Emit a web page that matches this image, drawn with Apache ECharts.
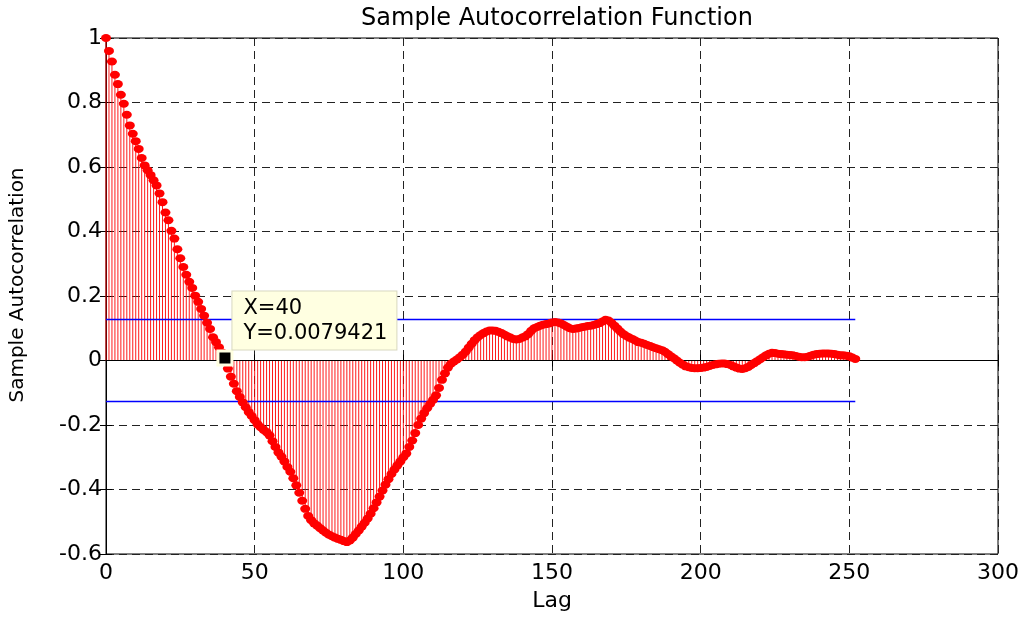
<!DOCTYPE html>
<html>
<head>
<meta charset="utf-8">
<title>Sample Autocorrelation Function</title>
<script src="https://cdn.jsdelivr.net/npm/echarts@6/dist/echarts.min.js"></script>
<style>
  html, body { margin: 0; padding: 0; background: #fff; }
  #chart { width: 1029px; height: 617px; }
</style>
</head>
<body>
<div id="chart"></div>
<script>
// sample autocorrelation, lag 0 .. 252
const acf = [
  1.000, 0.960, 0.927, 0.886, 0.857, 0.824, 0.796, 0.762, 0.729, 0.703,
  0.680, 0.656, 0.628, 0.605, 0.590, 0.575, 0.559, 0.543, 0.518, 0.491,
  0.459, 0.435, 0.402, 0.378, 0.345, 0.317, 0.290, 0.266, 0.244, 0.225,
  0.201, 0.182, 0.160, 0.139, 0.117, 0.098, 0.072, 0.057, 0.041, 0.025,
  0.0079421,
  -0.025, -0.050, -0.072, -0.095, -0.113, -0.130, -0.145, -0.160, -0.172, -0.185,
  -0.198, -0.207, -0.215, -0.222, -0.232, -0.250, -0.268, -0.285, -0.298, -0.313,
  -0.330, -0.345, -0.365, -0.387, -0.410, -0.435, -0.460, -0.482, -0.495, -0.505,
  -0.512, -0.520, -0.527, -0.534, -0.540, -0.545, -0.549, -0.553, -0.556, -0.560,
  -0.563, -0.558, -0.549, -0.538, -0.527, -0.515, -0.503, -0.490, -0.475, -0.458,
  -0.440, -0.422, -0.403, -0.385, -0.368, -0.352, -0.338, -0.325, -0.313, -0.300,
  -0.288, -0.268, -0.248, -0.225, -0.200, -0.180, -0.163, -0.148, -0.135, -0.122,
  -0.108, -0.085, -0.060, -0.040, -0.022, -0.010, -0.003, 0.003, 0.010, 0.018,
  0.028, 0.040, 0.052, 0.063, 0.072, 0.079, 0.085, 0.090, 0.093, 0.093,
  0.092, 0.089, 0.085, 0.080, 0.075, 0.071, 0.067, 0.065, 0.067, 0.071,
  0.075, 0.082, 0.092, 0.100, 0.104, 0.108, 0.111, 0.113, 0.115, 0.118,
  0.119, 0.118, 0.115, 0.110, 0.105, 0.100, 0.098, 0.099, 0.101, 0.103,
  0.105, 0.107, 0.108, 0.110, 0.113, 0.116, 0.121, 0.126, 0.124, 0.117,
  0.108, 0.099, 0.090, 0.082, 0.076, 0.071, 0.067, 0.062, 0.057, 0.055,
  0.052, 0.048, 0.045, 0.041, 0.038, 0.035, 0.032, 0.027, 0.020, 0.013,
  0.007, 0.000, -0.007, -0.013, -0.018, -0.021, -0.023, -0.024, -0.024, -0.023,
  -0.022, -0.020, -0.017, -0.014, -0.012, -0.010, -0.009, -0.009, -0.011, -0.014,
  -0.018, -0.022, -0.025, -0.026, -0.024, -0.020, -0.014, -0.008, -0.002, 0.004,
  0.010, 0.016, 0.021, 0.024, 0.023, 0.021, 0.020, 0.019, 0.018, 0.017,
  0.016, 0.014, 0.012, 0.010, 0.010, 0.012, 0.015, 0.018, 0.020, 0.021,
  0.022, 0.022, 0.022, 0.021, 0.020, 0.018, 0.016, 0.016, 0.015, 0.013,
  0.009, 0.005
];
const numLags = 252;
const confBounds = [0.127, -0.127];
const tipLag = 40;
const xRange = [0, 300, 50];
const yRange = [-0.6, 1, 0.2];

const font = 'DejaVu Sans';
const points = acf.map((v, i) => [i, v]);

const chart = echarts.init(document.getElementById('chart'));

chart.setOption({
  animation: false,
  backgroundColor: '#fff',
  title: {
    text: 'Sample Autocorrelation Function',
    left: 552,
    textAlign: 'center',
    top: 2,
    textStyle: { fontFamily: font, fontSize: 24, fontWeight: 'normal', color: '#000' }
  },
  grid: {
    left: 106, right: 31, top: 38, bottom: 61,
    show: true, borderColor: '#000', borderWidth: 1, backgroundColor: '#fff'
  },
  xAxis: [{
    type: 'value',
    min: xRange[0], max: xRange[1], interval: xRange[2],
    name: 'Lag',
    nameLocation: 'middle',
    nameGap: 36,
    nameTextStyle: { fontFamily: font, fontSize: 22, color: '#000' },
    axisLine: { lineStyle: { color: '#000', width: 1 } },
    axisTick: { inside: true, length: 6, lineStyle: { color: '#000' } },
    axisLabel: { fontFamily: font, fontSize: 22, color: '#000', margin: 8 },
    splitLine: { show: true, lineStyle: { color: '#222', type: [8, 5], width: 1 } }
  }, {
    type: 'value', position: 'top',
    min: xRange[0], max: xRange[1], interval: xRange[2],
    axisLine: { show: false },
    axisTick: { inside: true, length: 6, lineStyle: { color: '#000' } },
    axisLabel: { show: false },
    splitLine: { show: false }
  }],
  yAxis: [{
    type: 'value',
    min: yRange[0], max: yRange[1], interval: yRange[2],
    name: 'Sample Autocorrelation',
    nameLocation: 'middle',
    nameGap: 78,
    nameTextStyle: { fontFamily: font, fontSize: 20, color: '#000', padding: [0, 0, 0, 22] },
    axisLine: { onZero: false, lineStyle: { color: '#000', width: 1 } },
    axisTick: { inside: true, length: 6, lineStyle: { color: '#000' } },
    axisLabel: { fontFamily: font, fontSize: 22, color: '#000', margin: 4 },
    splitLine: { show: true, lineStyle: { color: '#222', type: [8, 5], width: 1 } }
  }, {
    type: 'value', position: 'right',
    min: yRange[0], max: yRange[1], interval: yRange[2],
    axisLine: { show: false },
    axisTick: { inside: true, length: 6, lineStyle: { color: '#000' } },
    axisLabel: { show: false },
    splitLine: { show: false }
  }],
  series: [
    {
      name: 'stems',
      type: 'bar',
      data: points,
      barWidth: 1,
      itemStyle: { color: '#ff0000', opacity: 0.9 },
      z: 2
    },
    {
      name: 'zero',
      type: 'line',
      data: [[0, 0], [numLags, 0]],
      symbol: 'none',
      color: '#000',
      lineStyle: { color: '#000', width: 1 },
      z: 3
    },
    {
      name: 'upper',
      type: 'line',
      data: [[0, confBounds[0]], [numLags, confBounds[0]]],
      symbol: 'none',
      color: '#0000ff',
      itemStyle: { color: '#0000ff' },
      lineStyle: { color: '#0000ff', width: 1.5 },
      z: 3
    },
    {
      name: 'lower',
      type: 'line',
      data: [[0, confBounds[1]], [numLags, confBounds[1]]],
      symbol: 'none',
      color: '#0000ff',
      itemStyle: { color: '#0000ff' },
      lineStyle: { color: '#0000ff', width: 1.5 },
      z: 3
    },
    {
      name: 'acf',
      type: 'scatter',
      data: points,
      symbol: 'circle',
      symbolSize: [10, 8],
      itemStyle: { color: '#ff0000', opacity: 1 },
      z: 4
    },
    {
      name: 'datatip',
      type: 'scatter',
      data: [[tipLag, acf[tipLag]]],
      symbol: 'rect',
      symbolSize: 14,
      itemStyle: { color: '#000', opacity: 1, borderColor: '#ffffe1', borderWidth: 3 },
      label: {
        show: true,
        position: [16, -58],
        align: 'left',
        verticalAlign: 'top',
        formatter: () => 'X=' + tipLag + '\nY=' + acf[tipLag],
        fontFamily: font,
        fontSize: 21,
        lineHeight: 25,
        color: '#000',
        backgroundColor: '#ffffe1',
        borderColor: '#d8d8c0',
        borderWidth: 1,
        padding: [5, 9, 3, 11]
      },
      z: 10
    }
  ]
});
</script>
</body>
</html>
